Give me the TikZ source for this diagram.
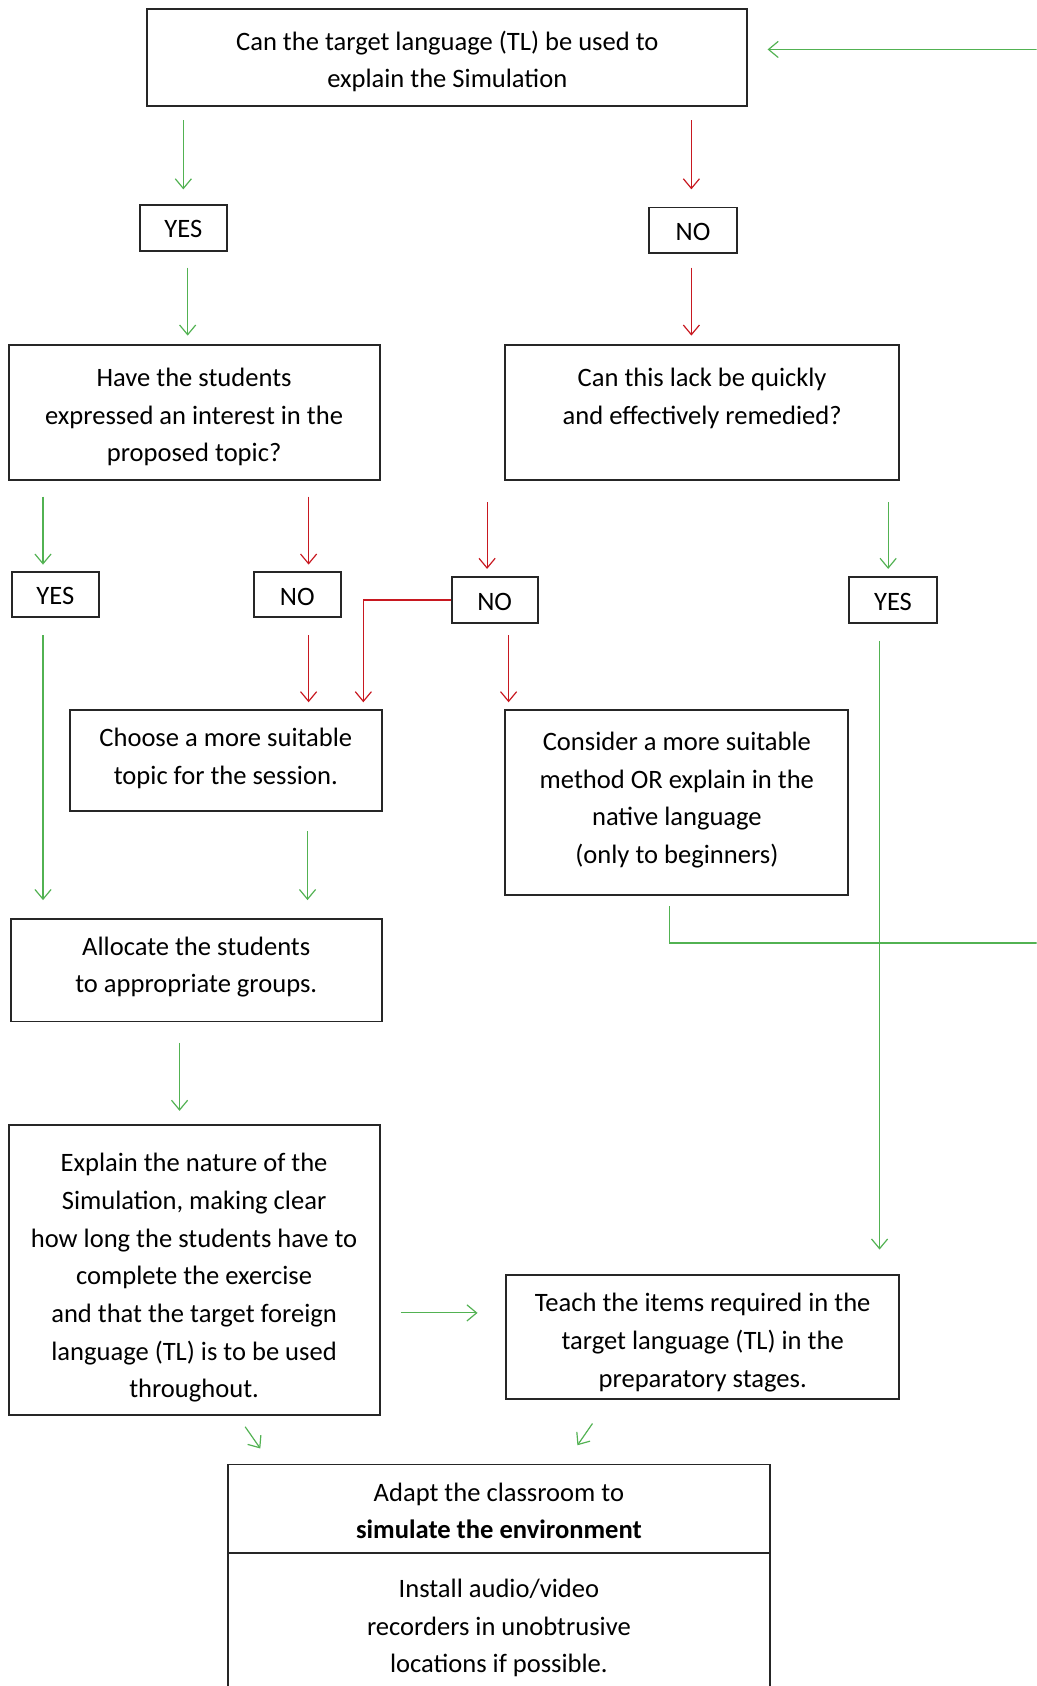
\documentclass[tikz,border=0pt]{standalone}
\usepackage{fontspec}
\setmainfont{Carlito}
\usetikzlibrary{arrows.meta,calc}
\definecolor{gr}{RGB}{82,178,82}
\definecolor{rd}{RGB}{200,24,32}
\definecolor{bc}{RGB}{38,38,38}
\tikzset{
  box/.style={draw=bc, line width=1.8pt, inner sep=0pt},
  txt/.style={align=center, inner sep=0pt, font=\fontsize{24.7}{35}\selectfont},
  garr/.style={draw=gr, line width=1.1pt, -{Straight Barb[length=9pt,width=15pt]}},
  rarr/.style={draw=rd, line width=1.1pt, -{Straight Barb[length=9pt,width=15pt]}},
}
\begin{document}
\begin{tikzpicture}[x=1pt,y=-1pt]
\useasboundingbox (0,0) rectangle (964,1568);
\clip (0,0) rectangle (964,1568);
\fill[white] (0,0) rectangle (964,1568);

% frames
\node[box, minimum width=558pt, minimum height=91pt] (top) at (416,53.5) {};
\node[box, minimum width=81pt, minimum height=42pt] (yesA) at (170.5,212) {};
\node[box, minimum width=81pt, minimum height=42pt] (noA) at (644.5,214) {};
\node[box, minimum width=345pt, minimum height=125pt] (have) at (180.5,383.5) {};
\node[box, minimum width=366pt, minimum height=125pt] (lack) at (653,383.5) {};
\node[box, minimum width=81pt, minimum height=42pt] (yesB) at (51.5,553) {};
\node[box, minimum width=81pt, minimum height=42pt] (noB) at (276.5,553) {};
\node[box, minimum width=80pt, minimum height=42pt] (noC) at (460,558) {};
\node[box, minimum width=81pt, minimum height=42pt] (yesC) at (830.5,558) {};
\node[box, minimum width=290pt, minimum height=94pt] (choose) at (210,707) {};
\node[box, minimum width=319pt, minimum height=172pt] (consider) at (629.5,746) {};
\node[box, minimum width=345pt, minimum height=95pt] (alloc) at (182.5,902.5) {};
\node[box, minimum width=345pt, minimum height=270pt] (explain) at (180.5,1181) {};
\node[box, minimum width=365pt, minimum height=115pt] (teach) at (653.5,1243.5) {};
\node[box, minimum width=504pt, minimum height=82pt] (adapt) at (464,1403) {};
\node[box, minimum width=504pt, minimum height=136pt] (install) at (464,1512) {};

% texts
\node[txt] (topT) at ($(top)+(0,3.5)$) {Can the target language (TL) be used to\\explain the Simulation};
\node[txt] (yesAT) at ($(yesA)+(0,1)$) {YES};
\node[txt] (noAT) at ($(noA)+(0,2)$) {NO};
\node[txt] (haveT) at ($(have)+(0,4.5)$) {Have the students\\expressed an interest in the\\proposed topic?};
\node[txt] (lackT) at ($(lack)+(0,4.5)$) {Can this lack be quickly\\and effectively remedied?\\\vphantom{p}};
\node[txt] (yesBT) at ($(yesB)+(0,1)$) {YES};
\node[txt] (noBT) at ($(noB)+(0,2)$) {NO};
\node[txt] (noCT) at ($(noC)+(0,2)$) {NO};
\node[txt] (yesCT) at ($(yesC)+(0,2)$) {YES};
\node[txt] (chooseT) at ($(choose)+(0,-1.5)$) {Choose a more suitable\\topic for the session.};
\node[txt] (considerT) at ($(consider)+(0,-2)$) {Consider a more suitable\\method OR explain in the\\native language\\(only to beginners)};
\node[txt] (allocT) at ($(alloc)+(0,-3)$) {Allocate the students\\to appropriate groups.};
\node[txt] (explainT) at ($(explain)+(0,7.5)$) {Explain the nature of the\\Simulation, making clear\\how long the students have to\\complete the exercise\\and that the target foreign\\language (TL) is to be used\\throughout.};
\node[txt] (teachT) at ($(teach)+(0,5)$) {Teach the items required in the\\target language (TL) in the\\preparatory stages.};
\node[txt] (adaptT) at ($(adapt)+(0,2)$) {Adapt the classroom to\\\textbf{simulate the environment}};
\node[txt] (installT) at ($(install)+(0,2)$) {Install audio/video\\recorders in unobtrusive\\locations if possible.};

% connectors
\draw[garr] ($(top.south -| yesA)+(0,12)$) -- ($(yesA.north)+(0,-14)$);
\draw[garr] ($(yesA.south)+(4,15)$) -- ($(have.north -| yesA)+(4,-8)$);
\draw[rarr] ($(top.south -| noA)+(-1.5,12)$) -- ($(noA.north)+(-1.5,-16)$);
\draw[rarr] ($(noA.south)+(-1.5,13)$) -- ($(lack.north -| noA)+(-1.5,-8)$);
\draw[garr] ($(have.south -| yesB)+(-11.5,15)$) -- ($(yesB.north)+(-11.5,-6)$);
\draw[rarr] ($(have.south -| noB)+(10.5,15)$) -- ($(noB.north)+(10.5,-6)$);
\draw[rarr] ($(lack.south -| noC)+(-7,20)$) -- ($(noC.north)+(-7,-7)$);
\draw[garr] ($(lack.south -| yesC)+(-4.5,20)$) -- ($(yesC.north)+(-4.5,-7)$);
\draw[rarr] (noC.west) -| ($(choose.north east)+(-18,-6)$);
\draw[rarr] ($(noB.south)+(10.5,16)$) -- ($(choose.north -| noB)+(10.5,-6)$);
\draw[rarr] ($(noC.south)+(13,11)$) -- ($(consider.north -| noC)+(13,-6)$);
\draw[garr] ($(yesB.south)+(-11.5,16)$) -- ($(alloc.north -| yesB)+(-11.5,-17)$);
\draw[garr] ($(choose.south)+(76,18)$) -- ($(alloc.north -| choose)+(76,-17)$);
\coordinate (ret) at (990,877);
\draw[garr] ($(consider.south)+(-6.5,10)$) |- (ret) |- ($(top.east)+(18,-7.5)$);
\draw[garr] ($(yesC.south)+(-12.5,16)$) -- ($(teach.north -| yesC)+(-12.5,-23)$);
\draw[garr] ($(alloc.south)+(-15.5,19)$) -- ($(explain.north -| alloc)+(-15.5,-12)$);
\draw[garr] ($(explain.east)+(19,40)$) -- ($(teach.west |- explain.east)+(-26,40)$);
\draw[garr] ($(explain.south)+(47.5,10)$) -- ($(adapt.north west)+(31,-14)$);
\draw[garr] ($(teach.south)+(-102.5,22)$) -- ($(adapt.north)+(73,-17)$);
\end{tikzpicture}
\end{document}
